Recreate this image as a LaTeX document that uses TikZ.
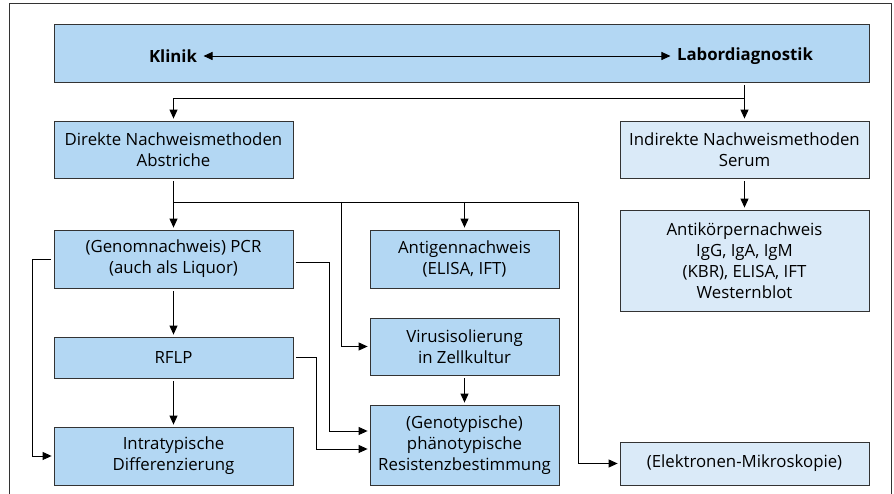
\documentclass[tikz,border=0pt]{standalone}
\usepackage{fontspec}
\setmainfont{Open Sans}
\usetikzlibrary{arrows.meta, positioning, calc}
\definecolor{boxBlue}{HTML}{B3D7F3}
\definecolor{boxLight}{HTML}{DAEAF8}
\definecolor{lineGray}{gray}{0.2}

\begin{document}
\begin{tikzpicture}[x=1pt, y=1pt, >={Triangle[length=9pt,width=8pt]},
    box/.style={draw=lineGray, fill=boxBlue, line width=0.8pt, align=center, inner sep=0pt, font=\fontsize{16.8}{21}\selectfont},
    lightbox/.style={box, fill=boxLight},
    link/.style={->, line width=0.9pt, shorten >=2pt, shorten <=3pt},
    branch/.style={->, line width=0.9pt, shorten >=2pt}]
    \useasboundingbox (0,0) rectangle (894,494);
    \draw[lineGray, line width=0.9pt] (9,0) -- (9,491) -- (891,491) -- (891,0);

    % Boxes
    \node[box, minimum width=815pt, minimum height=58pt] (top) at (461.5,441) {};
    \node[font=\fontsize{16.8}{21}\selectfont\bfseries] (klinik) at (173,438) {Klinik};
    \node[font=\fontsize{16.8}{21}\selectfont\bfseries] (labor) at (745,438) {Labordiagnostik};
    \node[box, minimum width=239pt, minimum height=57pt] (direkt) at (173.5,344.5) {Direkte Nachweismethoden\\Abstriche};
    \node[lightbox, minimum width=249pt, minimum height=57pt] (indirekt) at (744.5,344.5) {Indirekte Nachweismethoden\\Serum};
    \node[box, minimum width=239pt, minimum height=58pt] (pcr) at (173.5,235) {(Genomnachweis) PCR\\(auch als Liquor)};
    \node[box, minimum width=189pt, minimum height=58pt] (antigen) at (464.5,235) {Antigennachweis\\(ELISA, IFT)};
    \node[box, minimum width=239pt, minimum height=41pt] (rflp) at (173.5,136.5) {RFLP};
    \node[box, minimum width=189pt, minimum height=57pt] (virus) at (464.5,147.5) {Virusisolierung\\in Zellkultur};
    \node[box, minimum width=189pt, minimum height=80pt] (geno) at (464.5,49) {(Genotypische)\\phänotypische\\Resistenzbestimmung};
    \node[box, minimum width=239pt, minimum height=58pt] (intra) at (173.5,38) {Intratypische\\Differenzierung};
    \node[lightbox, minimum width=249pt, minimum height=101pt] (anti) at (744.5,233.5) {Antikörpernachweis\\IgG, IgA, IgM\\(KBR), ELISA, IFT\\Westernblot};
    \node[lightbox, minimum width=249pt, minimum height=43pt] (elektro) at (744.5,30.5) {(Elektronen-Mikroskopie)};

    \coordinate (split) at (744.5,396);
    \coordinate (fork) at (173.5,292);
    \coordinate (vbranch) at (341,292);
    \coordinate (corner) at (578,292);

    % Connectors
    \draw[<->, line width=0.9pt, shorten >=3pt, shorten <=3pt] (klinik.east) -- (labor.west);
    \draw[link] (top.south -| split) -- (indirekt.north);
    \draw[branch] (split) -| (direkt.north);
    \draw[link] (indirekt) -- (anti);
    \draw[link] (direkt) -- (pcr);
    \draw[line width=0.9pt] (fork) -- (corner);
    \draw[branch] (fork -| antigen) -- (antigen.north);
    \draw[branch] (vbranch) |- (virus.west);
    \draw[branch] (corner) |- (elektro.west);
    \draw[link] (pcr) -- (rflp);
    \draw[link] (rflp) -- (intra);
    \draw[link] (virus) -- (geno);
    \draw[link] (pcr.west) -- ++(-21,0) |- (intra.west);
    \draw[link] ([yshift=-3pt]pcr.east) -- ++(36,0) |- ([yshift=14pt]geno.west);
    \draw[link] (rflp.east) -- ++(23,0) |- ([yshift=-4pt]geno.west);
\end{tikzpicture}
\end{document}
